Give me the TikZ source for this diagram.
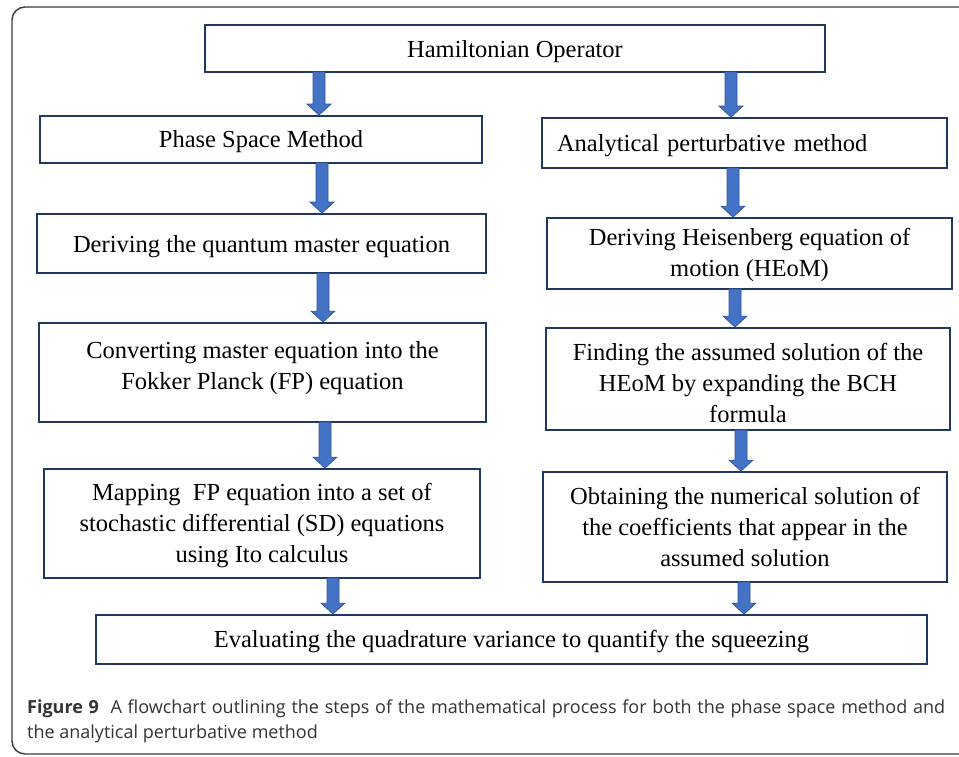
\documentclass[tikz,border=0pt]{standalone}
\usepackage{fontspec}
\setmainfont{Liberation Serif}
\newfontfamily\capfont{Open Sans}
\usetikzlibrary{calc}
\definecolor{boxedge}{HTML}{1F3864}
\definecolor{arrfill}{HTML}{4472C4}
\definecolor{arredge}{HTML}{2F5597}
\definecolor{framegray}{HTML}{3A3A3A}
\definecolor{capgray}{HTML}{333333}
\tikzset{
  fbox/.style={draw=boxedge, line width=1.8pt, align=center, inner sep=2pt,
    font=\fontsize{24.5}{31}\selectfont},
  flowarr/.style={draw=arredge, fill=arrfill, line width=0.7pt, line join=miter},
  frameline/.style={draw=framegray, line width=1.4pt, rounded corners=13pt},
}
\newcommand{\up}[1]{\rule{0pt}{#1}}
\newcommand{\flowarrow}[2]{%
  \path[flowarr] let \p1=(#1), \p2=(#2) in
    (\x1-6pt,\y1+1pt) -- (\x1+6pt,\y1+1pt) -- (\x1+6pt,\y2+11pt) --
    (\x1+12pt,\y2+11pt) -- (\x1,\y2) -- (\x1-12pt,\y2+11pt) --
    (\x1-6pt,\y2+11pt) -- cycle;}
\begin{document}
\begin{tikzpicture}[x=1pt,y=-1pt]
\useasboundingbox (0,0) rectangle (959,757);
\draw[frameline] (990,7) -- (12,7) -- (12,754) -- (990,754);

\node[fbox, minimum width=620pt, minimum height=47pt] (ham) at (515,48.5) {\up{23pt}Hamiltonian Operator};
\node[fbox, minimum width=442pt, minimum height=47pt] (phase) at (261,139.5) {\up{21pt}Phase Space Method};
\node[fbox, text width=375pt, inner xsep=15pt, align=left, minimum height=50pt] (anal) at (744.5,143) {\up{22pt}Analytical perturbative method};
\node[fbox, minimum width=449pt, minimum height=59pt] (dq) at (261.5,243.5) {\up{24pt}Deriving the quantum master equation};
\node[fbox, minimum width=405pt, minimum height=71pt] (heis) at (749.5,253.5) {\up{21pt}Deriving Heisenberg equation of\\motion (HEoM)};
\node[fbox, minimum width=447pt, minimum height=99pt] (conv) at (262.5,372.5) {Converting master equation into the\\Fokker Planck (FP) equation\rule[-13.5pt]{0pt}{0pt}};
\node[fbox, minimum width=404pt, minimum height=102pt] (find) at (748,379) {\up{26pt}Finding the assumed solution of the\\HEoM by expanding the BCH\\formula};
\node[fbox, minimum width=436pt, minimum height=109pt] (map) at (262,523.5) {\up{21pt}Mapping\ \ FP equation into a set of\\stochastic differential (SD) equations\\using Ito calculus};
\node[fbox, minimum width=404pt, minimum height=110pt] (obt) at (745,527) {Obtaining the numerical solution of\\the coefficients that appear in the\\assumed solution};
\node[fbox, minimum width=831pt, minimum height=49pt] (eval) at (511.5,639.5) {\up{22pt}Evaluating the quadrature variance to quantify the squeezing};

\flowarrow{[xshift=-196pt]ham.south}{phase.north}
\flowarrow{[xshift=216pt]ham.south}{anal.north}
\flowarrow{[xshift=61pt]phase.south}{dq.north}
\flowarrow{[xshift=-11.5pt]anal.south}{heis.north}
\flowarrow{[xshift=61.5pt]dq.south}{conv.north}
\flowarrow{[xshift=-14.5pt]heis.south}{find.north}
\flowarrow{[xshift=62.5pt]conv.south}{map.north}
\flowarrow{[xshift=-7pt]find.south}{obt.north}
\flowarrow{[xshift=71pt]map.south}{eval.north}
\flowarrow{[xshift=-1pt]obt.south}{eval.north}

\node[anchor=base west, inner sep=0pt, text width=918pt, align=justify, text=capgray,
  font=\capfont\fontsize{18}{25}\selectfont] (cap) at (27,713)
  {{\bfseries Figure 9}\ \ A flowchart outlining the steps of the mathematical process for both the phase space method and\linebreak the analytical perturbative method};
\end{tikzpicture}
\end{document}
